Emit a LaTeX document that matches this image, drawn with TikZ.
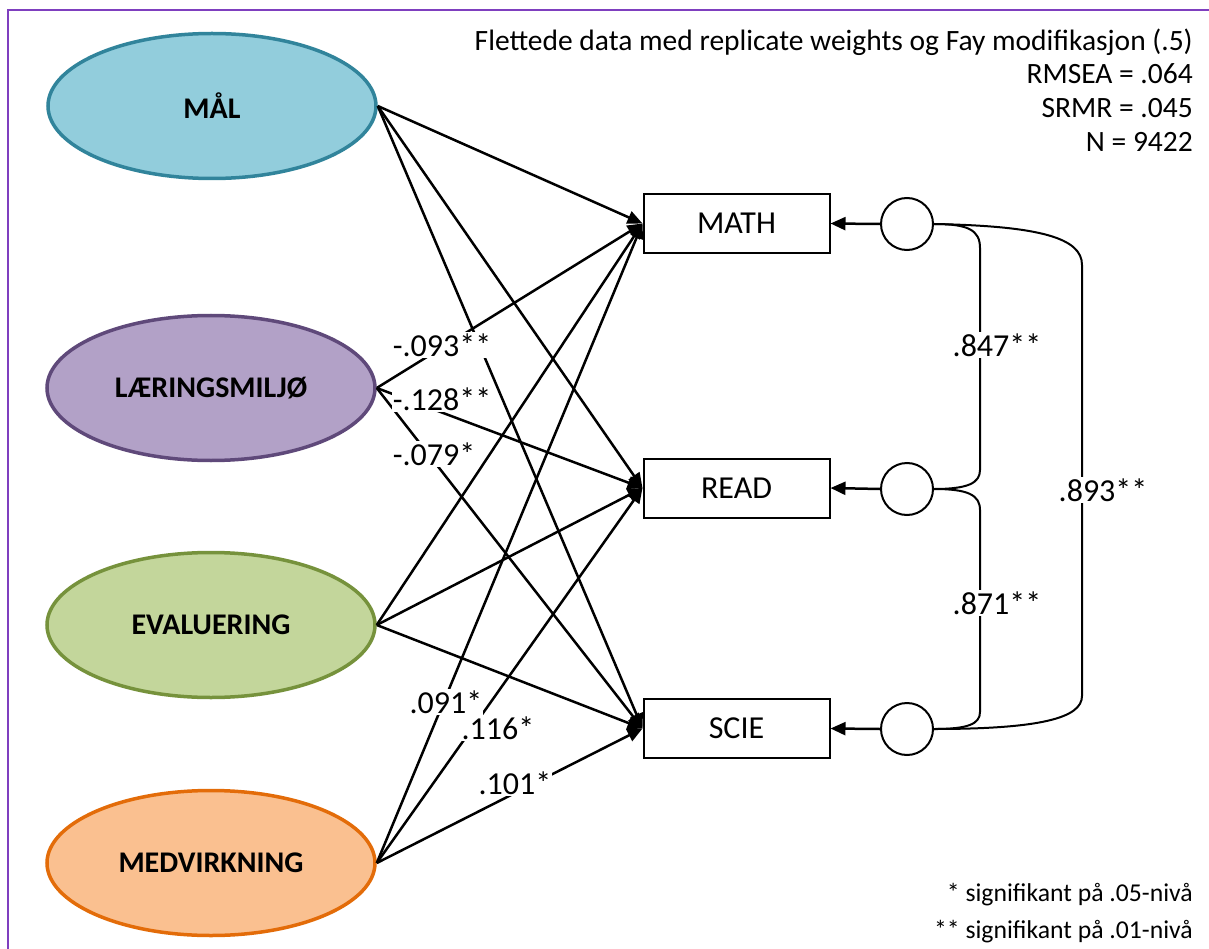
\documentclass[tikz,border=0pt]{standalone}
\usepackage{fontspec}
\setmainfont{Carlito}
\usetikzlibrary{shapes.geometric,arrows.meta}
\definecolor{malfill}{HTML}{92CDDC}
\definecolor{maldraw}{HTML}{31849B}
\definecolor{laerfill}{HTML}{B2A1C7}
\definecolor{laerdraw}{HTML}{5F497A}
\definecolor{evalfill}{HTML}{C3D69B}
\definecolor{evaldraw}{HTML}{76923C}
\definecolor{medfill}{HTML}{FAC090}
\definecolor{meddraw}{HTML}{E36C09}
\definecolor{framecol}{RGB}{127,63,191}
\begin{document}
\begin{tikzpicture}[x=1pt,y=-1pt,
  lat/.style={ellipse,minimum width=328pt,minimum height=145pt,inner sep=0pt,line width=3.5pt,font=\fontsize{30}{36}\selectfont\bfseries},
  obs/.style={draw,line width=2pt,minimum width=186pt,minimum height=59pt,inner sep=0pt,font=\fontsize{32}{38}\selectfont},
  err/.style={circle,draw,line width=2pt,minimum size=52pt,inner sep=0pt},
  reg/.style={line width=2.5pt,-{Triangle[length=15pt,width=13pt]}},
  coef/.style={fill=white,inner xsep=1pt,inner ysep=2pt,font=\fontsize{32}{38}\selectfont},
  cov/.style={line width=2pt},
  notetxt/.style={anchor=base east,inner sep=0pt},
  frameline/.style={draw=framecol,line width=2pt}
]
\useasboundingbox (0,0) rectangle (1209,949);
\draw[frameline] (8,949) -- (8,10) -- (1209,10);

% latent variables
\node[lat,fill=malfill,draw=maldraw] (mal) at (212,106) {MÅL};
\node[lat,fill=laerfill,draw=laerdraw] (laer) at (211,388) {LÆRINGSMILJØ};
\node[lat,fill=evalfill,draw=evaldraw] (eval) at (211,625) {EVALUERING};
\node[lat,fill=medfill,draw=meddraw] (med) at (211,863) {MEDVIRKNING};

% observed
\node[obs] (math) at (736.5,223.5) {MATH};
\node[obs] (read) at (736.5,488) {READ};
\node[obs] (scie) at (736.5,728.5) {SCIE};

% error terms
\node[err] (e1) at (907,224) {};
\node[err] (e2) at (907,489) {};
\node[err] (e3) at (907,729) {};

\draw[reg] (e1.west) -- (math.east);
\draw[reg] (e2.west) -- (read.east);
\draw[reg] (e3.west) -- (scie.east);

% paths
\foreach \src in {mal,laer,eval,med}{
  \foreach \dst in {math,read,scie}{
    \draw[reg] (\src.east) -- (\dst.west);
  }
}

% covariances
\draw[cov] (e1.east) .. controls (968,224) and (980,230) .. (980,248) -- (980,470)
  .. controls (980,483) and (968,489) .. (e2.east);
\draw[cov] (e2.east) .. controls (968,489) and (980,495) .. (980,510) -- (980,712)
  .. controls (980,724) and (968,729) .. (e3.east);
\draw[cov] (e1.east) .. controls (1040,226) and (1082,238) .. (1082,265) -- (1082,696)
  .. controls (1082,718) and (1040,729) .. (e3.east);

% coefficient labels
\node[coef] (c1) at (442,345) {-.093**};
\node[coef] (c2) at (442,399) {-.128**};
\node[coef] (c3) at (434,454) {-.079*};
\node[coef] (c4) at (446,702) {.091*};
\node[coef] (c5) at (498,728) {.116*};
\node[coef] (c6) at (515,783) {.101*};
\node[coef] (c7) at (997,345) {.847**};
\node[coef] (c8) at (997,603) {.871**};
\node[coef] (c9) at (1103,490) {.893**};

% notes
\begin{scope}[font=\fontsize{29.5}{35}\selectfont]
\node[notetxt] (n1) at (1193,51) {Flettede data med replicate weights og Fay modifikasjon (.5)};
\node[notetxt] (n2) at (1193,84) {RMSEA = .064};
\node[notetxt] (n3) at (1193,118) {SRMR = .045};
\node[notetxt] (n4) at (1193,152) {N = 9422};
\end{scope}
\begin{scope}[font=\fontsize{25.7}{31}\selectfont]
\node[notetxt] (s1) at (1193,901) {* signifikant på .05-nivå};
\node[notetxt] (s2) at (1193,938) {** signifikant på .01-nivå};
\end{scope}
\end{tikzpicture}
\end{document}
